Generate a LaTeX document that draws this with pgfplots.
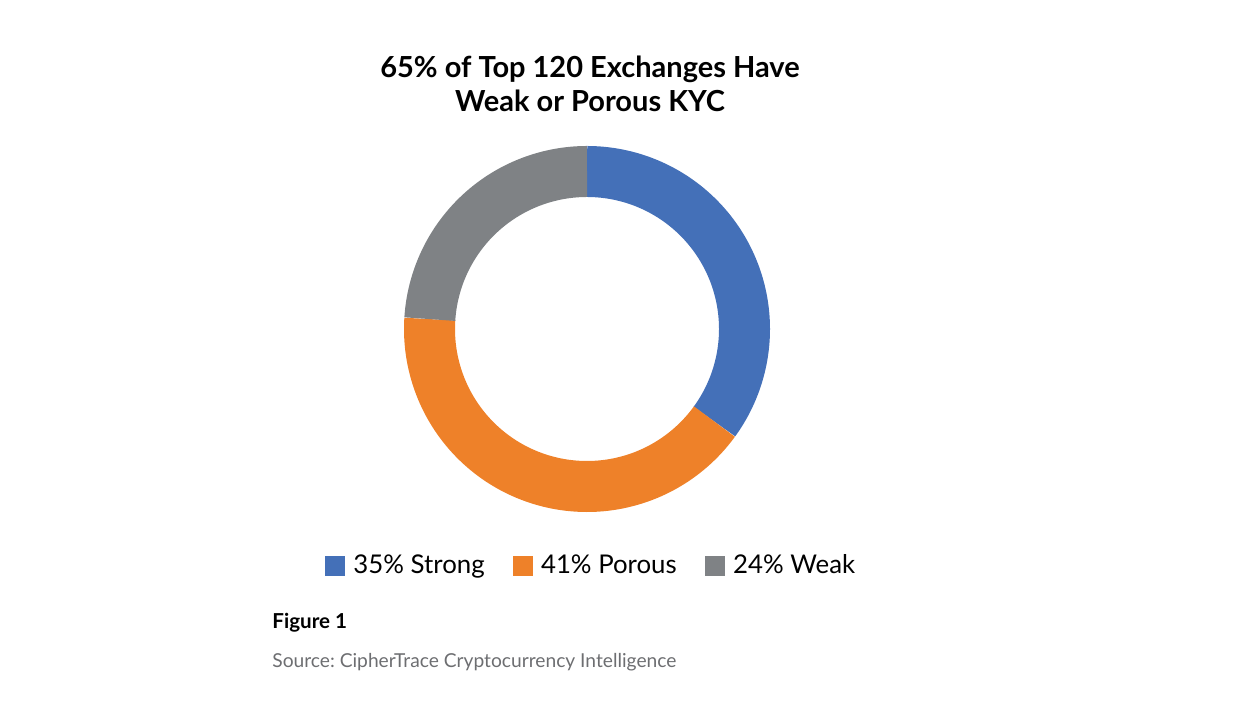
\documentclass[border=0pt]{standalone}
\usepackage{fontspec}
\setmainfont{Lato}
\usepackage{pgfplots}
\pgfplotsset{compat=1.18}
\definecolor{kblue}{HTML}{4470B8}
\definecolor{korange}{HTML}{EE8129}
\definecolor{kgray}{HTML}{7F8285}
\definecolor{srcgray}{HTML}{6D6E71}
\frenchspacing
\begin{document}
\begin{tikzpicture}
\useasboundingbox (0pt,0pt) rectangle (622pt,359pt);
\node[align=center, font=\bfseries\fontsize{14.5}{17}\selectfont] at (295pt,317pt) {65\% of Top 120 Exchanges Have\\Weak or Porous KYC};
\begin{axis}[
  at={(293.5pt,194.5pt)}, anchor=center,
  hide axis, scale only axis,
  width=183pt, height=183pt,
  xmin=-1, xmax=1, ymin=-1, ymax=1,
  clip=false,
  legend columns=3,
  legend style={at={(0.514,-0.1475)}, anchor=center, draw=none, fill=none,
    font=\fontsize{12.9}{14}\selectfont,
    /tikz/every odd column/.append style={column sep=2pt},
    /tikz/every even column/.append style={column sep=12pt}},
  legend image code/.code={\fill[#1, draw=none, line width=0pt] (0pt,-5.2pt) rectangle (10.2pt,5.2pt);},
]
\addplot[kblue, line width=25.5pt, line cap=butt, domain=90:90-3.6*35, samples=120]
  ({0.8607*cos(x)},{0.8607*sin(x)});
\addlegendentry{35\% Strong}
\addplot[korange, line width=25.5pt, line cap=butt, domain=90-3.6*35:90-3.6*76, samples=140]
  ({0.8607*cos(x)},{0.8607*sin(x)});
\addlegendentry{41\% Porous}
\addplot[kgray, line width=25.5pt, line cap=butt, domain=90-3.6*76:-270, samples=90]
  ({0.8607*cos(x)},{0.8607*sin(x)});
\addlegendentry{24\% Weak}
\end{axis}
\node[anchor=west, font=\bfseries\fontsize{10.3}{12}\selectfont, inner sep=0pt] at (136pt,47.5pt) {Figure 1};
\node[anchor=west, font=\fontsize{9.6}{11}\selectfont, text=srcgray, inner sep=0pt] at (136pt,28pt) {Source: CipherTrace Cryptocurrency Intelligence};
\end{tikzpicture}
\end{document}
